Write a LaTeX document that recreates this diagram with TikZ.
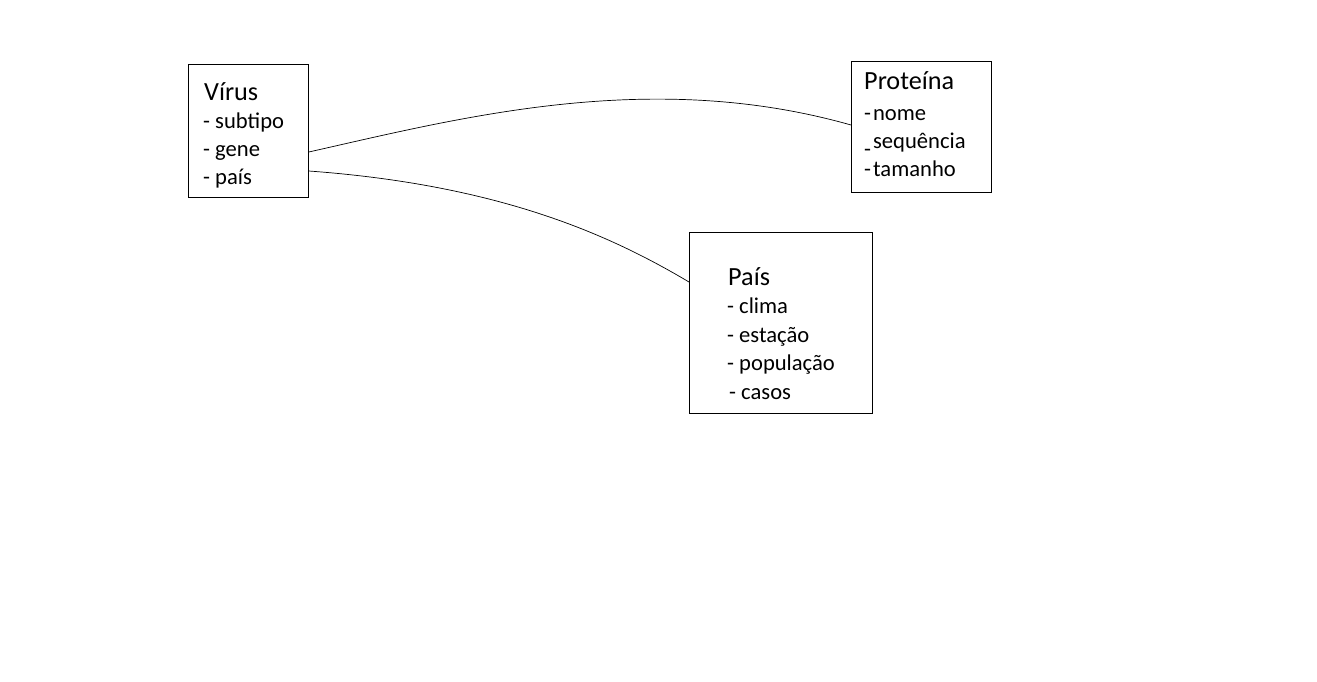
\documentclass[tikz,border=0pt]{standalone}
\usepackage{fontspec}
\setmainfont{Carlito}
\begin{document}
\begin{tikzpicture}[x=1pt,y=-1pt,
  box/.style={draw=black,line width=0.8pt,inner sep=0pt,anchor=north west},
  ttl/.style={anchor=base west,inner sep=0pt,font=\fontsize{26.2}{30}\selectfont},
  itm/.style={anchor=base west,inner sep=0pt,font=\fontsize{22.6}{26}\selectfont},
  link/.style={draw=black,line width=0.7pt}]
\useasboundingbox[fill=white] (0,0) rectangle (1317,681);
% boxes
\node[box,minimum width=120pt,minimum height=133pt] (virus) at (188,64) {};
\node[box,minimum width=140pt,minimum height=131pt] (prot) at (851,61) {};
\node[box,minimum width=183pt,minimum height=181pt] (pais) at (689,232) {};
% Virus text
\node[ttl] (vt) at (204,100) {Vírus};
\node[itm] (v1) at (203,128) {- subtipo};
\node[itm] (v2) at (203,156) {- gene};
\node[itm] (v3) at (203,184) {- país};
% Proteina text
\node[ttl] (pt) at (864,89) {Proteína};
\node[itm] (p1) at (864,120) {-\hspace{2pt}nome};
\node[itm] (p2) at (864,148) {\raisebox{-8pt}[0pt][0pt]{-}\hspace{2pt}sequência};
\node[itm] (p3) at (864,176) {-\hspace{2pt}tamanho};
% Pais text
\node[ttl] (ct) at (728,285) {País};
\node[itm] (c1) at (727,313) {- clima};
\node[itm] (c2) at (727,342) {- estação};
\node[itm] (c3) at (727,370) {- população};
\node[itm] (c4) at (729,399) {- casos};
% connectors
\coordinate (va) at ([yshift=-88pt]virus.north east);
\coordinate (vb) at ([yshift=-107pt]virus.north east);
\coordinate (pa) at ([yshift=-64pt]prot.north west);
\coordinate (ca) at ([yshift=-50pt]pais.north west);
\draw[link] (va) .. controls (460,118) and (650,68) .. (pa);
\draw[link] (vb) .. controls (500,185) and (610,235) .. (ca);
\end{tikzpicture}
\end{document}
